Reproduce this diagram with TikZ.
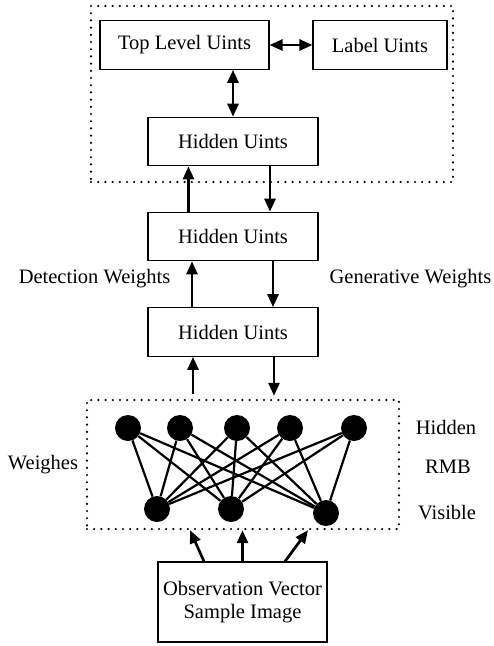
\documentclass[tikz,border=0pt]{standalone}
\usepackage{fontspec}
\setmainfont{Liberation Serif}
\usetikzlibrary{arrows.meta}
\begin{document}
\begin{tikzpicture}[x=1pt,y=-1pt,
  font=\fontsize{20.5}{24}\selectfont,
  unitbox/.style={draw, line width=1.2pt, inner sep=0pt, minimum height=48.5pt},
  dotbox/.style={draw, line width=2.4pt, dash pattern=on 0pt off 7.2pt, line cap=round, inner sep=0pt},
  arr/.style={line width=2.7pt, -{Triangle[length=13pt,width=11pt]}},
  darr/.style={line width=2.7pt, {Triangle[length=13pt,width=11pt]}-{Triangle[length=13pt,width=11pt]}},
  unit/.style={circle, fill=black, inner sep=0pt, minimum size=26pt},
  edge/.style={line width=2.2pt},
  lbl/.style={inner sep=0pt}]
\useasboundingbox (0,0) rectangle (494,646);

% upper group of units
\node[dotbox, minimum width=362pt, minimum height=176pt] (top) at (272,94) {};
\node[unitbox, minimum width=169pt] (tl) at (184.5,45) {Top Level Uints};
\node[unitbox, minimum width=134pt] (lab) at (380,45) {Label Uints};
\node[unitbox, minimum width=170pt] (h1) at (233,141.5) {Hidden Uints};

% stacked hidden layers
\node[unitbox, minimum width=170pt] (h2) at (233,236.5) {Hidden Uints};
\node[unitbox, minimum width=170pt] (h3) at (233,332) {Hidden Uints};
\node[lbl] (det) at (94.5,279) {Detection Weights};
\node[lbl] (gen) at (410.5,279) {Generative Weights};

% RBM
\node[dotbox, minimum width=312pt, minimum height=129pt] (rbm) at (243,464.5) {};
\foreach \n/\x in {1/128,2/180,3/237,4/290,5/354}
  \node[unit] (hu\n) at (\x,428) {};
\node[unit] (vu1) at (157,509) {};
\node[unit] (vu2) at (231,509) {};
\node[unit] (vu3) at (326,513) {};
\foreach \i in {1,...,5}
  \foreach \j in {1,2,3}
    \draw[edge] (hu\i) -- (vu\j);
\node[lbl] (lh) at (446,427) {Hidden};
\node[lbl] (lr) at (448,467) {RMB};
\node[lbl] (lv) at (447,513) {Visible};
\node[lbl] (lw) at (43,465) {Weighes};

% input box
\node[draw, line width=1.2pt, minimum width=169pt, minimum height=80pt, inner sep=0pt,
      align=center, font=\fontsize{20.5}{23}\selectfont] (obs) at (242.5,602)
      {Observation Vector\\Sample Image};

% connectors
\draw[darr] (tl.east) -- (lab.west);
\draw[darr] (tl.south -| h1.north) -- (h1.north);
\draw[arr] (h2.north -| 188.5,0) -- (h1.south -| 188.5,0);
\draw[arr] (h1.south -| 270,0) -- (h2.north -| 270,0);
\draw[arr] (h3.north -| 192,0) -- (h2.south -| 192,0);
\draw[arr] (h2.south -| 273,0) -- (h3.north -| 273,0);
\draw[arr] ([yshift=5pt]rbm.north -| 193,0) -- (h3.south -| 193,0);
\draw[arr] (h3.south -| 274,0) -- ([yshift=3pt]rbm.north -| 274,0);
\draw[arr] (obs.north -| 204,0) -- (rbm.south -| 190,0);
\draw[arr] (obs.north) -- (rbm.south -| obs.north);
\draw[arr] (obs.north -| 285,0) -- (rbm.south -| 308,0);
\end{tikzpicture}
\end{document}
